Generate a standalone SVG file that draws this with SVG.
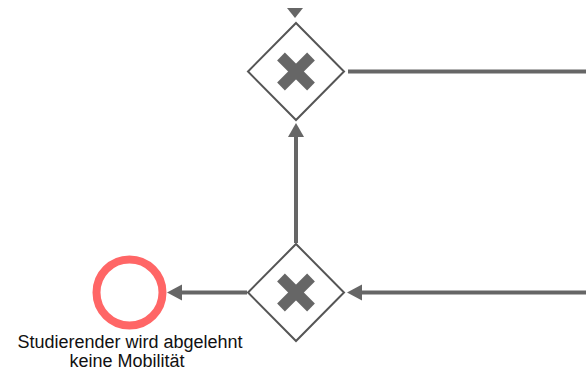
<svg xmlns="http://www.w3.org/2000/svg" width="586" height="371" viewBox="0 0 586 371">
<style>
.flow{stroke:#666;stroke-width:4;fill:none}
.head{fill:#666}
.gw{fill:#fff;stroke:#555;stroke-width:2}
.x{stroke:#666;stroke-width:11;stroke-linecap:butt}
.lbl{font-family:"Liberation Sans",Arial,sans-serif;font-size:18px;fill:#111;text-anchor:middle}
</style>
<rect width="586" height="371" fill="#fff"/>
<g id="connectors">
  <polygon class="head" points="287,8 303,8 295,18"/>
  <line class="flow" x1="348" y1="71.5" x2="586" y2="71.5"/>
  <line class="flow" x1="296" y1="243" x2="296" y2="134"/>
  <polygon class="head" points="296,123 288,137 304,137"/>
  <line class="flow" x1="586" y1="292.5" x2="360" y2="292.5"/>
  <polygon class="head" points="347,292.5 362,284.5 362,300.5"/>
  <line class="flow" x1="247" y1="292.5" x2="180" y2="292.5"/>
  <polygon class="head" points="167,292.5 182,284.5 182,300.5"/>
</g>
<g id="gateway-top">
  <polygon class="gw" points="296,23 344,71.5 296,120 248,71.5"/>
  <line class="x" x1="281" y1="56.5" x2="311" y2="86.5"/>
  <line class="x" x1="311" y1="56.5" x2="281" y2="86.5"/>
</g>
<g id="gateway-bottom">
  <polygon class="gw" points="296,244 344,292.5 296,341 248,292.5"/>
  <line class="x" x1="281" y1="277.5" x2="311" y2="307.5"/>
  <line class="x" x1="311" y1="277.5" x2="281" y2="307.5"/>
</g>
<g id="end-event">
  <circle cx="129.5" cy="292.5" r="33" fill="#fff" stroke="#f66" stroke-width="8"/>
  <text class="lbl" x="130" y="348">Studierender wird abgelehnt</text>
  <text class="lbl" x="127" y="367">keine Mobilität</text>
</g>
</svg>
